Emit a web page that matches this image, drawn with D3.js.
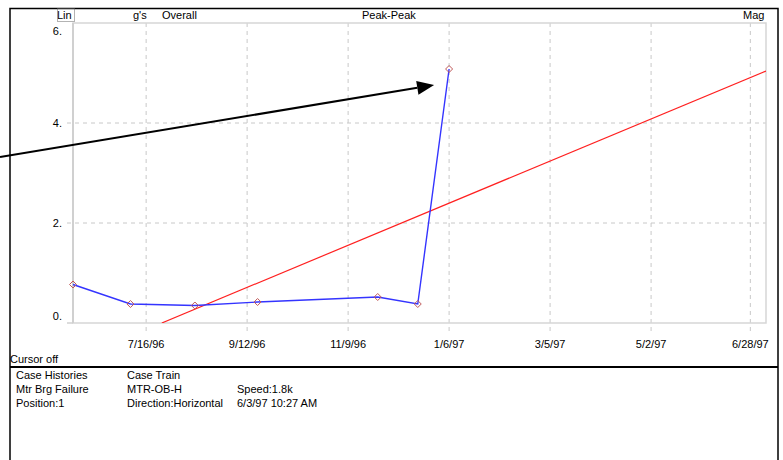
<!DOCTYPE html>
<html>
  <head>
    <meta charset="utf-8" />
    <script src="https://d3js.org/d3.v7.min.js"></script>
    <style>
      body { margin: 0; background: #fff; }
      text { font-family: "Liberation Sans", Arial, sans-serif; font-size: 11px; fill: #000; }
      text.info { font-size: 11px; }
      line.grid { stroke: #c8c8c8; stroke-width: 1px; stroke-dasharray: 4 4; }
    </style>
  </head>
  <body>
    <svg id="chart" width="783" height="460"></svg>
    <script>
      // blue series: overall peak-peak readings (g's)
      const readDates = ["1996-06-04", "1996-07-07", "1996-08-13", "1996-09-18", "1996-11-26", "1996-12-19", "1997-01-06"];
      const readValues = [0.77, 0.38, 0.35, 0.42, 0.52, 0.38, 5.08];

      // red trend line endpoints
      const trendDates = ["1996-07-25", "1997-07-07"];
      const trendValues = [0.0, 5.04];

      const xTicks = ["1996-07-16", "1996-09-12", "1996-11-09", "1997-01-06", "1997-03-05", "1997-05-02", "1997-06-28"];
      const yTicks = [0, 2, 4, 6];
      const xDomain = ["1996-06-04", "1997-07-07"];

      const headerLabels = ["Lin", "g's", "Overall", "Peak-Peak", "Mag"];
      const infoRows = [
        ["Case Histories", "Case Train", ""],
        ["Mtr Brg Failure", "MTR-OB-H", "Speed:1.8k"],
        ["Position:1", "Direction:Horizontal", "6/3/97 10:27 AM"]
      ];

      const parse = d3.timeParse("%Y-%m-%d");
      const fmt = (d) => `${d.getMonth() + 1}/${d.getDate()}/${String(d.getFullYear()).slice(2)}`;

      const svg = d3.select("#chart");
      const plot = { left: 73, right: 766, top: 23, bottom: 323 };

      const x = d3.scaleTime().domain(xDomain.map(parse)).range([plot.left, plot.right]);
      const y = d3.scaleLinear().domain([0, 6]).range([plot.bottom, plot.top]);

      // outer frame
      svg.append("path")
        .attr("d", "M10,460V8.5H778V460")
        .attr("fill", "none").attr("stroke", "#000").attr("stroke-width", 1.5);
      svg.append("line")
        .attr("x1", 10).attr("x2", 778).attr("y1", 367).attr("y2", 367)
        .attr("stroke", "#000").attr("stroke-width", 2);

      // header
      const headerX = [57, 133, 162, 362, 743];
      svg.selectAll("text.head")
        .data(headerLabels)
        .join("text")
        .attr("class", "head")
        .attr("x", (d, i) => headerX[i])
        .attr("y", 19)
        .text((d) => d);
      svg.append("rect")
        .attr("x", 57.5).attr("y", 8.5).attr("width", 17).attr("height", 13)
        .attr("fill", "none").attr("stroke", "#666").attr("stroke-dasharray", "1 1");

      // grid
      svg.append("g").selectAll("line")
        .data(xTicks.map(parse))
        .join("line")
        .attr("class", "grid")
        .attr("x1", (d) => x(d)).attr("x2", (d) => x(d))
        .attr("y1", plot.top).attr("y2", plot.bottom + 8);
      svg.append("g").selectAll("line")
        .data(yTicks.filter((d) => d > 0 && d < 6))
        .join("line")
        .attr("class", "grid")
        .attr("x1", plot.left - 6).attr("x2", plot.right)
        .attr("y1", (d) => y(d)).attr("y2", (d) => y(d));

      // plot border
      svg.append("rect")
        .attr("x", plot.left).attr("y", plot.top)
        .attr("width", plot.right - plot.left).attr("height", plot.bottom - plot.top)
        .attr("fill", "none").attr("stroke", "#d6d6d6").attr("stroke-width", 1.5);
      svg.append("line")
        .attr("x1", plot.left).attr("x2", plot.left).attr("y1", plot.top).attr("y2", plot.bottom)
        .attr("stroke", "#d0d0d0").attr("stroke-width", 2);
      svg.append("line")
        .attr("x1", plot.left - 6).attr("x2", plot.left).attr("y1", plot.bottom).attr("y2", plot.bottom)
        .attr("stroke", "#d0d0d0").attr("stroke-width", 1.5);

      // axis labels
      svg.append("g").selectAll("text")
        .data(yTicks)
        .join("text")
        .attr("x", 62)
        .attr("y", (d) => y(d) + (d === 6 ? 12 : d === 0 ? -3 : 4))
        .attr("text-anchor", "end")
        .text((d) => d + ".");
      svg.append("g").selectAll("text")
        .data(xTicks.map(parse))
        .join("text")
        .attr("x", (d) => x(d))
        .attr("y", 348)
        .attr("text-anchor", "middle")
        .text(fmt);

      // clip
      svg.append("clipPath").attr("id", "clip")
        .append("rect")
        .attr("x", plot.left).attr("y", plot.top)
        .attr("width", plot.right - plot.left).attr("height", plot.bottom - plot.top);

      const lineGen = d3.line().x((d) => x(d[0])).y((d) => y(d[1]));

      const trend = trendDates.map((d, i) => [parse(d), trendValues[i]]);
      svg.append("path")
        .datum(trend)
        .attr("clip-path", "url(#clip)")
        .attr("d", lineGen)
        .attr("fill", "none").attr("stroke", "#ff2020").attr("stroke-width", 1.2);

      const readings = readDates.map((d, i) => [parse(d), readValues[i]]);
      svg.append("path")
        .datum(readings)
        .attr("d", lineGen)
        .attr("fill", "none").attr("stroke", "#3434ff").attr("stroke-width", 1.4);

      svg.append("g").selectAll("path")
        .data(readings)
        .join("path")
        .attr("transform", (d) => `translate(${x(d[0])},${y(d[1])})`)
        .attr("d", "M0,-3.5L3.5,0L0,3.5L-3.5,0Z")
        .attr("fill", "none").attr("stroke", "#c05a5a").attr("stroke-width", 1);

      // annotation arrow pointing at the spike
      const peak = readings[readings.length - 1];
      const tip = [x(peak[0]) - 15, y(peak[1]) + 16];
      const tail = [0, y(3.32)];
      const ang = Math.atan2(tip[1] - tail[1], tip[0] - tail[0]);
      const headLen = 17, headHalf = 7;
      const base = [tip[0] - headLen * Math.cos(ang), tip[1] - headLen * Math.sin(ang)];
      svg.append("line")
        .attr("x1", tail[0]).attr("y1", tail[1]).attr("x2", base[0]).attr("y2", base[1])
        .attr("stroke", "#000").attr("stroke-width", 2);
      svg.append("path")
        .attr("d", `M${tip[0]},${tip[1]}L${base[0] + headHalf * Math.sin(ang)},${base[1] - headHalf * Math.cos(ang)}L${base[0] - headHalf * Math.sin(ang)},${base[1] + headHalf * Math.cos(ang)}Z`)
        .attr("fill", "#000");

      // footer
      svg.append("text").attr("x", 10).attr("y", 363).text("Cursor off");
      const colX = [16, 127, 237];
      infoRows.forEach((row, r) => {
        row.forEach((t, c) => {
          svg.append("text")
            .attr("class", "info")
            .attr("x", colX[c])
            .attr("y", 379 + r * 14)
            .text(t);
        });
      });
    </script>
  </body>
</html>
